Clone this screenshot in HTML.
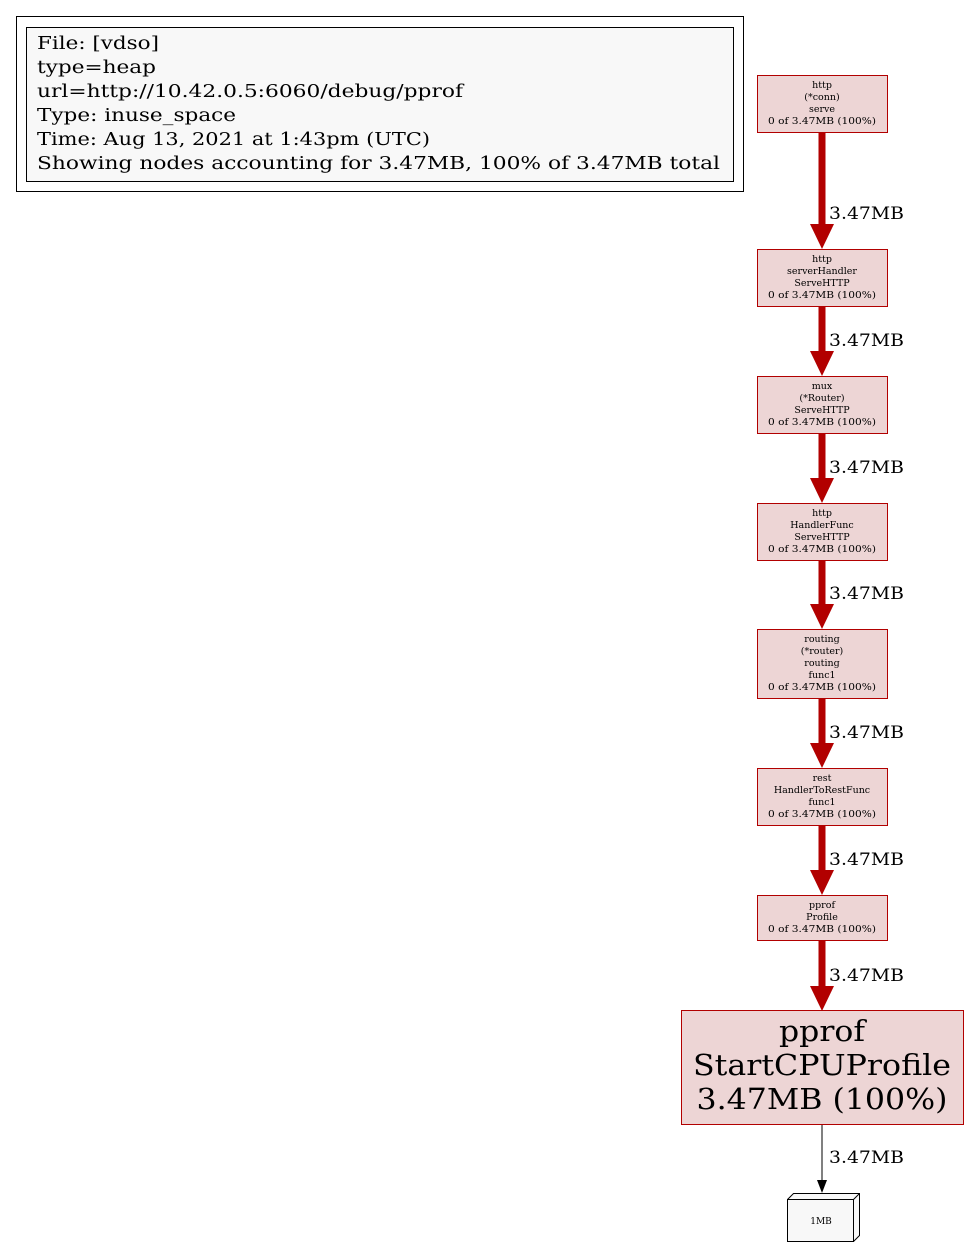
<!DOCTYPE html>
<html><head><meta charset="utf-8"><style>
html,body{margin:0;padding:0;background:#fff;}
svg text{font-family:"DejaVu Serif","Liberation Serif",serif;}
</style></head><body>
<svg id="g" width="969" height="1247" viewBox="0 0 969 1247" xmlns="http://www.w3.org/2000/svg">
<g>
<rect x="16.5" y="16.5" width="727" height="175" fill="#fff" stroke="#000"/>
<rect x="26.5" y="27.5" width="707" height="154" fill="#f8f8f8" stroke="#000"/>
<text x="37" y="49" font-size="17.5" textLength="122" lengthAdjust="spacingAndGlyphs">File: [vdso]</text>
<text x="37" y="73" font-size="17.5" textLength="119" lengthAdjust="spacingAndGlyphs">type=heap</text>
<text x="37" y="97" font-size="17.5" textLength="426" lengthAdjust="spacingAndGlyphs">url=http://10.42.0.5:6060/debug/pprof</text>
<text x="37" y="121" font-size="17.5" textLength="199" lengthAdjust="spacingAndGlyphs">Type: inuse_space</text>
<text x="37" y="145" font-size="17.5" textLength="393" lengthAdjust="spacingAndGlyphs">Time: Aug 13, 2021 at 1:43pm (UTC)</text>
<text x="37" y="169" font-size="17.5" textLength="683" lengthAdjust="spacingAndGlyphs">Showing nodes accounting for 3.47MB, 100% of 3.47MB total</text>
</g>
<g id="nodes"></g>
</svg>
<script>
const nodeLabels=[
 ["http","(*conn)","serve","0 of 3.47MB (100%)"],
 ["http","serverHandler","ServeHTTP","0 of 3.47MB (100%)"],
 ["mux","(*Router)","ServeHTTP","0 of 3.47MB (100%)"],
 ["http","HandlerFunc","ServeHTTP","0 of 3.47MB (100%)"],
 ["routing","(*router)","routing","func1","0 of 3.47MB (100%)"],
 ["rest","HandlerToRestFunc","func1","0 of 3.47MB (100%)"],
 ["pprof","Profile","0 of 3.47MB (100%)"]
];
const nodeTops=[75,249,376,503,629,768,895];
const edgeLabels=["3.47MB","3.47MB","3.47MB","3.47MB","3.47MB","3.47MB","3.47MB","3.47MB"];
const NS="http://www.w3.org/2000/svg";
const G=document.getElementById('nodes');
const cx=822;
function mk(t,a,p){const e=document.createElementNS(NS,t);for(const k in a)e.setAttribute(k,a[k]);(p||G).appendChild(e);return e;}
const bottoms=[];
nodeLabels.forEach((lines,i)=>{
 const top=nodeTops[i],h=lines.length*12+10;
 const g=mk('g',{});
 
 
 mk('rect',{x:757.5,y:top+0.5,width:130,height:h-1,fill:'#edd5d5',stroke:'#b20000'},g);
 lines.forEach((l,j)=>{const a={x:cx,y:top+13+j*12,'font-size':9.5,'text-anchor':'middle'};
  if(l.startsWith('0 of')){a.textLength=108;a.lengthAdjust='spacingAndGlyphs';}
  const t=mk('text',a,g);t.textContent=l;});
 bottoms.push(top+h);
});
const bg=mk('g',{});


mk('rect',{x:681.5,y:1010.5,width:282,height:114,fill:'#edd5d5',stroke:'#b20000'},bg);
const bigL=["pprof","StartCPUProfile","3.47MB (100%)"],bigW=[86,258,251];
bigL.forEach((l,j)=>{const t=mk('text',{x:cx,y:1041+j*34,'font-size':29,'text-anchor':'middle',textLength:bigW[j],lengthAdjust:'spacingAndGlyphs'},bg);t.textContent=l;});
const mb=mk('g',{});


mk('path',{d:'M787.5 1199.5 L793.5 1193.5 L859.5 1193.5 L859.5 1235.5 L853.5 1241.5 M853.5 1199.5 L859.5 1193.5',fill:'#f8f8f8',stroke:'#000'},mb);
mk('rect',{x:787.5,y:1199.5,width:66,height:42,fill:'#f8f8f8',stroke:'#000'},mb);
const mt=mk('text',{x:821,y:1224,'font-size':9,'text-anchor':'middle'},mb);mt.textContent="1MB";
const targets=nodeTops.slice(1).concat([1011]);
targets.forEach((tt,i)=>{
 const sb=bottoms[i];
 const g=mk('g',{});
 
 
 mk('line',{x1:cx,y1:sb,x2:cx,y2:tt-24,stroke:'#b20000','stroke-width':7},g);
 mk('polygon',{points:`${cx-12},${tt-25} ${cx+12},${tt-25} ${cx},${tt}`,fill:'#b20000'},g);
 const t=mk('text',{x:829,y:tt-30,'font-size':17,textLength:75,lengthAdjust:'spacingAndGlyphs'},g);t.textContent=edgeLabels[i];
});
const eg=mk('g',{});


mk('line',{x1:cx,y1:1125,x2:cx,y2:1181,stroke:'#000','stroke-width':1},eg);
mk('polygon',{points:`${cx-5},${1180} ${cx+5},${1180} ${cx},${1193}`,fill:'#000'},eg);
const et=mk('text',{x:829,y:1163,'font-size':17,textLength:75,lengthAdjust:'spacingAndGlyphs'},eg);et.textContent=edgeLabels[7];
</script>
</body></html>
